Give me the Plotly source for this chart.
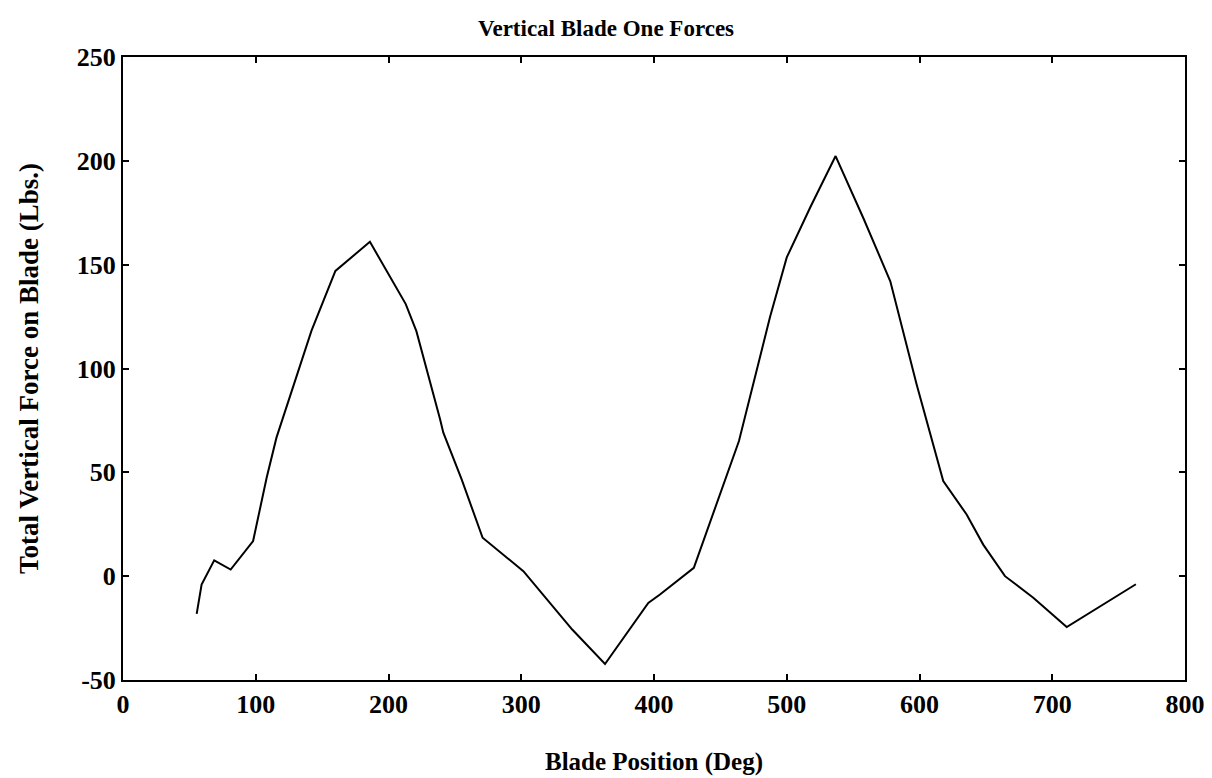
import plotly.graph_objects as go

blade_position = [55.5, 59.2, 68.7, 81.1, 98.0, 108.2, 115.6, 125.8, 142.0, 160.0, 186.0,
                  213.0, 221.0, 238.8, 241.3, 255.1, 270.9, 301.6, 338.4, 363.1, 395.7,
                  404.5, 430.0, 464.0, 473.6, 487.4, 500.0, 518.0, 536.8, 558.0, 578.0,
                  591.6, 597.8, 617.9, 635.5, 648.0, 664.4, 685.7, 710.9, 763.0]
vertical_force = [-18.2, -4.0, 7.6, 3.2, 16.9, 47.4, 66.7, 86.4, 118.2, 147.0, 161.0,
                  131.0, 118.0, 75.7, 69.1, 46.6, 18.5, 2.4, -25.7, -42.3, -12.9,
                  -8.8, 4.0, 65.1, 89.2, 124.8, 153.5, 178.0, 202.3, 172.0, 142.0,
                  108.5, 92.4, 45.8, 29.7, 15.2, 0.0, -10.4, -24.5, -3.9]

x_ticks = [0, 100, 200, 300, 400, 500, 600, 700, 800]
y_ticks = [-50, 0, 50, 100, 150, 200, 250]

font_family = "Liberation Serif"

fig = go.Figure()
fig.add_trace(go.Scatter(x=blade_position, y=vertical_force, mode="lines",
                         line=dict(color="black", width=2), showlegend=False))

axis_common = dict(showgrid=False, zeroline=False, showline=True, linecolor="black",
                   linewidth=2, mirror="ticks", ticks="inside", ticklen=6,
                   tickcolor="black", tickwidth=1.5, automargin=False,
                   tickfont=dict(family=font_family, size=26, color="black"))

fig.update_layout(
    width=1212, height=778,
    margin=dict(l=123, r=27, t=57, b=98),
    paper_bgcolor="white", plot_bgcolor="white",
    title=dict(text="<b>Vertical Blade One Forces</b>", x=0.5, xanchor="center",
               y=0.964, yanchor="middle",
               font=dict(family=font_family, size=23, color="black")),
    xaxis=dict(range=[0, 800], tickvals=x_ticks, ticktext=[f"<b>{v}</b>" for v in x_ticks],
               title=dict(text="<b>Blade Position (Deg)</b>", standoff=34,
                          font=dict(family=font_family, size=25, color="black")),
               **axis_common),
    yaxis=dict(range=[-50, 250], tickvals=y_ticks, ticktext=[f"<b>{v}</b>" for v in y_ticks],
               title=dict(text="<b>Total Vertical Force on Blade (Lbs.)</b>", standoff=30,
                          font=dict(family=font_family, size=27, color="black")),
               **axis_common),
)

fig.write_html("out.html")
